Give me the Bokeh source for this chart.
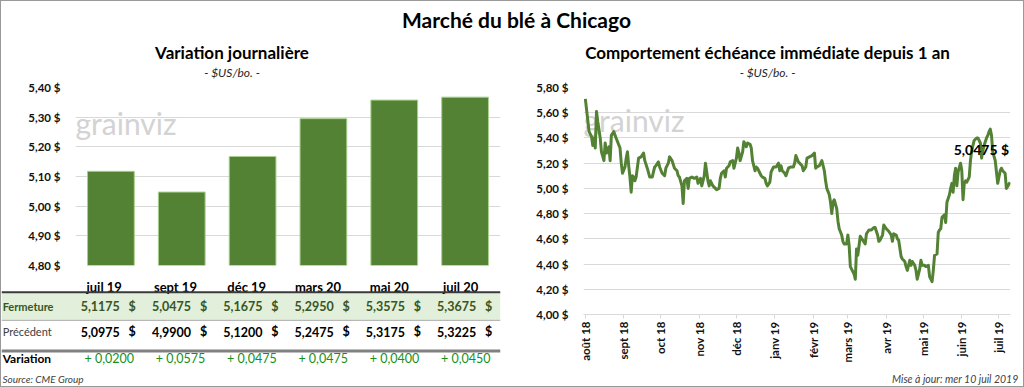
import pandas as pd
from math import pi
from bokeh.plotting import figure
from bokeh.layouts import column, row
from bokeh.models import (Range1d, FactorRange, FixedTicker, ColumnDataSource,
                          Span, BoxAnnotation, Label)
from bokeh.transform import dodge
from bokeh.core.properties import value
from bokeh.embed import file_html
from bokeh.resources import INLINE

FONT = "Lato"
GREEN = "#548235"
GRID = "#D9D9D9"

# ---------------- data ----------------
contracts = ["juil 19", "sept 19", "déc 19", "mars 20", "mai 20", "juil 20"]
fermeture = [5.1175, 5.0475, 5.1675, 5.2950, 5.3575, 5.3675]
precedent = [5.0975, 4.9900, 5.1200, 5.2475, 5.3175, 5.3225]
variation = [0.0200, 0.0575, 0.0475, 0.0475, 0.0400, 0.0450]
row_labels = ["Fermeture", "Précédent", "Variation"]

bar_ticks = [4.80, 4.90, 5.00, 5.10, 5.20, 5.30, 5.40]
bar_tick_labels = ["4,80 $", "4,90 $", "5,00 $", "5,10 $", "5,20 $", "5,30 $", "5,40 $"]

line_ticks = [4.00, 4.20, 4.40, 4.60, 4.80, 5.00, 5.20, 5.40, 5.60, 5.80]
line_tick_labels = ["4,00 $", "4,20 $", "4,40 $", "4,60 $", "4,80 $",
                    "5,00 $", "5,20 $", "5,40 $", "5,60 $", "5,80 $"]

month_starts = ["2018-08-01", "2018-09-01", "2018-10-01", "2018-11-01", "2018-12-01",
                "2019-01-01", "2019-02-01", "2019-03-01", "2019-04-01", "2019-05-01",
                "2019-06-01", "2019-07-01"]
month_labels = ["août 18", "sept 18", "oct 18", "nov 18", "déc 18", "janv 19",
                "févr 19", "mars 19", "avr 19", "mai 19", "juin 19", "juil 19"]

series_start = "2018-08-01"
price_days = [0, 3, 5, 6, 7, 8, 9, 10, 12, 13, 15, 16, 17, 19, 20, 21, 23, 24, 26, 28,
              29, 30, 32, 33, 34, 35, 36, 37, 38, 39, 40, 41, 43, 45, 47, 48, 50, 52, 54, 56,
              57, 59, 60, 62, 64, 65, 67, 68, 70, 72, 74, 75, 76, 78, 79, 80, 82, 83, 84, 86,
              88, 90, 91, 93, 94, 96, 97, 99, 100, 101, 103, 105, 106, 108, 109, 110, 112, 113, 114, 116,
              117, 119, 120, 122, 123, 124, 125, 127, 128, 130, 131, 133, 134, 135, 137, 138, 139, 141, 142, 143,
              145, 146, 147, 149, 150, 152, 154, 156, 157, 158, 159, 161, 162, 164, 166, 168, 169, 170, 172, 173,
              175, 176, 178, 179, 181, 183, 185, 186, 187, 189, 191, 193, 194, 195, 197, 198, 199, 200, 201, 203,
              204, 205, 207, 208, 209, 211, 212, 213, 214, 215, 217, 218, 219, 220, 222, 224, 226, 227, 229, 231,
              233, 234, 236, 237, 238, 240, 241, 243, 244, 245, 247, 248, 249, 251, 252, 253, 255, 256, 258, 259,
              260, 262, 263, 264, 266, 267, 268, 270, 271, 272, 274, 275, 277, 278, 280, 281, 282, 284, 285, 286,
              287, 288, 290, 291, 292, 294, 295, 296, 297, 298, 299, 300, 301, 303, 304, 305, 306, 307, 308, 310,
              311, 312, 314, 316, 317, 319, 320, 321, 322, 324, 325, 326, 327, 328, 329, 331, 332, 333, 335, 336,
              337, 339, 340, 343]
price_values = [5.71, 5.45, 5.41, 5.34, 5.40, 5.32, 5.61, 5.53, 5.40, 5.29, 5.22, 5.36, 5.28, 5.33, 5.22, 5.42, 5.45, 5.42, 5.37, 5.32,
                5.20, 5.12, 5.17, 5.24, 5.29, 5.18, 5.09, 4.97, 5.10, 5.09, 5.06, 5.09, 5.24, 5.25, 5.28, 5.22, 5.16, 5.09, 5.09, 5.17,
                5.18, 5.21, 5.17, 5.12, 5.10, 5.16, 5.20, 5.25, 5.22, 5.16, 5.14, 5.10, 5.09, 5.02, 4.88, 5.06, 5.08, 5.00, 5.08, 5.09,
                5.08, 5.09, 5.04, 5.08, 5.02, 5.10, 5.20, 5.06, 5.02, 5.06, 5.02, 5.00, 4.99, 5.00, 5.08, 5.12, 5.14, 5.09, 5.16, 5.18,
                5.21, 5.22, 5.16, 5.24, 5.32, 5.28, 5.22, 5.29, 5.37, 5.33, 5.36, 5.35, 5.32, 5.22, 5.14, 5.17, 5.16, 5.12, 5.10, 5.09,
                5.08, 5.04, 5.02, 5.05, 5.13, 5.17, 5.17, 5.20, 5.14, 5.18, 5.14, 5.12, 5.10, 5.16, 5.17, 5.17, 5.20, 5.26, 5.21, 5.20,
                5.18, 5.14, 5.17, 5.24, 5.25, 5.26, 5.28, 5.16, 5.17, 5.18, 5.22, 5.14, 5.06, 5.00, 4.95, 4.89, 4.80, 4.89, 4.91, 4.84,
                4.74, 4.68, 4.63, 4.58, 4.56, 4.56, 4.63, 4.55, 4.38, 4.36, 4.32, 4.28, 4.52, 4.47, 4.62, 4.59, 4.56, 4.64, 4.67, 4.67,
                4.69, 4.69, 4.63, 4.58, 4.59, 4.63, 4.71, 4.68, 4.67, 4.66, 4.63, 4.58, 4.64, 4.63, 4.60, 4.59, 4.46, 4.44, 4.42, 4.38,
                4.35, 4.43, 4.39, 4.42, 4.39, 4.35, 4.28, 4.36, 4.43, 4.39, 4.39, 4.38, 4.39, 4.30, 4.26, 4.35, 4.47, 4.48, 4.65, 4.67,
                4.68, 4.77, 4.79, 4.73, 4.89, 4.95, 5.00, 5.04, 4.97, 5.10, 5.16, 5.02, 5.13, 5.20, 5.14, 4.91, 5.04, 5.06, 5.05, 5.09,
                5.22, 5.30, 5.38, 5.40, 5.40, 5.36, 5.24, 5.30, 5.34, 5.40, 5.42, 5.45, 5.47, 5.42, 5.29, 5.22, 5.13, 5.04, 5.14, 5.16,
                5.14, 5.12, 5.00, 5.0475]

main_title = "Marché du blé à Chicago"
left_title = "Variation journalière"
right_title = "Comportement échéance immédiate depuis 1 an"
unit_text = "- $US/bo. -"
source_text = "Source: CME Group"
update_text = "Mise à jour: mer 10 juil 2019"
watermark = "grainviz"


def fr(v, nd):
    return f"{v:.{nd}f}".replace(".", ",")


def style_axis(ax, size="11.5px"):
    ax.axis_line_color = None
    ax.major_tick_line_color = None
    ax.minor_tick_line_color = None
    ax.major_label_text_font = FONT
    ax.major_label_text_font_style = "bold"
    ax.major_label_text_font_size = size
    ax.major_label_text_color = "#111111"


def no_align(p):
    if hasattr(p, "frame_align"):
        p.frame_align = False
    return p


W = 1022
W_L = 509
W_R = W - W_L
H_T, H_BAR, H_TBL, H_FOOT = 78, 193, 96, 18
H_R = H_BAR + H_TBL

# ---------------- header figure ----------------
tf = no_align(figure(width=W, height=H_T, x_range=Range1d(0, W), y_range=Range1d(H_T, 0),
                     toolbar_location=None, output_backend="svg", min_border=0,
                     x_axis_location=None, y_axis_location=None))
tf.grid.visible = False
tf.outline_line_color = None
tf.text(x=[515], y=[18], text=[main_title], text_font=value(FONT), text_font_style="bold",
        text_font_size="21px", text_align="center", text_baseline="middle", text_color="#000000")
tf.text(x=[230.5, 766], y=[50.5, 50.5], text=[left_title, right_title], text_font=value(FONT),
        text_font_style="bold", text_font_size="17px", text_align="center",
        text_baseline="middle", text_color="#000000")
tf.text(x=[230.5, 766], y=[71, 71], text=[unit_text, unit_text], text_font=value(FONT),
        text_font_style="italic", text_font_size="12px", text_align="center",
        text_baseline="middle", text_color="#262626")

# ---------------- bar chart ----------------
bar_src = ColumnDataSource(dict(contract=contracts, close=fermeture))
bf = no_align(figure(width=W_L, height=H_BAR, x_range=FactorRange(*contracts),
                     y_range=Range1d(bar_ticks[0], bar_ticks[-1]),
                     toolbar_location=None, output_backend="svg",
                     min_border_left=74, min_border_right=10, min_border_top=8, min_border_bottom=7,
                     x_axis_location=None))
bf.add_layout(Label(x=0, y=143, x_units="screen", y_units="screen", text=watermark,
                    text_font=FONT, text_font_size="30px", text_color="#D3D3D3",
                    text_baseline="alphabetic", level="underlay"))
bf.vbar(x="contract", top="close", bottom=bar_ticks[0], width=0.66, source=bar_src,
        fill_color=GREEN, line_color="#A9D08E", line_width=1)
bf.yaxis.ticker = FixedTicker(ticks=bar_ticks)
bf.yaxis.major_label_overrides = dict(zip(bar_ticks, bar_tick_labels))
style_axis(bf.yaxis)
bf.yaxis.major_label_standoff = 9
bf.xgrid.visible = False
bf.ygrid.grid_line_color = GRID
bf.outline_line_color = None

# ---------------- table ----------------
tbl_src = ColumnDataSource(dict(
    contract=contracts,
    ferm=[fr(v, 4) for v in fermeture],
    prec=[fr(v, 4) for v in precedent],
    var=["+ " + fr(v, 4) for v in variation],
    dollar=["$"] * len(contracts),
))
tbl = no_align(figure(width=W_L, height=H_TBL, x_range=FactorRange("label", *contracts),
                      y_range=Range1d(H_TBL, 0), toolbar_location=None, output_backend="svg",
                      min_border_left=0, min_border_right=10, min_border_top=0, min_border_bottom=0,
                      x_axis_location=None, y_axis_location=None))
tbl.grid.visible = False
tbl.outline_line_color = None
tbl.add_layout(BoxAnnotation(top=20.7, bottom=47.3, fill_color="#E2EFDA", fill_alpha=1,
                             line_color=None, level="underlay"))
tbl.add_layout(Span(location=19.7, dimension="width", line_color="#3A3A3A", line_width=2))
tbl.add_layout(Span(location=47.8, dimension="width", line_color="#A6A6A6", line_width=1))
tbl.add_layout(Span(location=78.5, dimension="width", line_color="#808080", line_width=3))

R = tbl.x_range
common = dict(source=tbl_src, text_font=value(FONT), text_baseline="middle")
tbl.text(x=dodge("contract", -0.06, range=R), y=14, text="contract", text_align="center",
         text_font_style="bold", text_font_size="13px", text_color="#000000", **common)
tbl.text(x=dodge("contract", 0.16, range=R), y=33.5, text="ferm", text_align="right",
         text_font_style="bold", text_font_size="12.5px", text_color="#375623", **common)
tbl.text(x=dodge("contract", 0.385, range=R), y=33.5, text="dollar", text_align="right",
         text_font_style="bold", text_font_size="12.5px", text_color="#375623", **common)
tbl.text(x=dodge("contract", 0.16, range=R), y=59, text="prec", text_align="right",
         text_font_style="bold", text_font_size="12.5px", text_color="#000000", **common)
tbl.text(x=dodge("contract", 0.385, range=R), y=59, text="dollar", text_align="right",
         text_font_style="bold", text_font_size="12.5px", text_color="#000000", **common)
tbl.text(x=dodge("contract", -0.335, range=R), y=86.3, text="var", text_align="left",
         text_font_style="normal", text_font_size="12.5px", text_color="#16901A", **common)

lab = dict(text_font=value(FONT), text_baseline="middle", text_align="left", x_offset=-34.5)
tbl.text(x=["label"], y=[33.5], text=[row_labels[0]], text_font_style="bold",
         text_font_size="11px", text_color="#375623", **lab)
tbl.text(x=["label"], y=[59], text=[row_labels[1]], text_font_style="normal",
         text_font_size="11px", text_color="#404040", **lab)
tbl.text(x=["label"], y=[86.3], text=[row_labels[2]], text_font_style="bold",
         text_font_size="12px", text_color="#000000", **lab)

# ---------------- line chart ----------------
dates = pd.Timestamp(series_start) + pd.to_timedelta(price_days, unit="D")
line_src = ColumnDataSource(dict(date=dates, price=price_values))
month_ms = [int(pd.Timestamp(d).timestamp() * 1000) for d in month_starts]

rf = no_align(figure(width=W_R, height=H_R, x_axis_type="datetime",
                     x_range=Range1d(dates[0] - pd.Timedelta(hours=36), dates[-1] + pd.Timedelta(hours=8)),
                     y_range=Range1d(line_ticks[0], line_ticks[-1]),
                     toolbar_location=None, output_backend="svg",
                     min_border_left=73, min_border_right=13, min_border_top=8, min_border_bottom=54))
rf.add_layout(Label(x=0, y=195, x_units="screen", y_units="screen", text=watermark,
                    text_font=FONT, text_font_size="30px", text_color="#D3D3D3",
                    text_baseline="alphabetic", level="underlay"))
rf.line(x="date", y="price", source=line_src, line_color=GREEN, line_width=3, line_join="round")
rf.yaxis.ticker = FixedTicker(ticks=line_ticks)
rf.yaxis.major_label_overrides = dict(zip(line_ticks, line_tick_labels))
style_axis(rf.yaxis)
rf.yaxis.major_label_standoff = 9
rf.xaxis.ticker = FixedTicker(ticks=month_ms)
rf.xaxis.major_label_overrides = dict(zip(month_ms, month_labels))
style_axis(rf.xaxis)
rf.xaxis.axis_line_color = GRID
rf.xaxis.major_tick_line_color = GRID
rf.xaxis.major_tick_in = 0
rf.xaxis.major_tick_out = 4
rf.xaxis.major_label_orientation = pi / 2
rf.xaxis.major_label_standoff = 3
rf.xgrid.visible = False
rf.ygrid.grid_line_color = GRID
rf.outline_line_color = None
last_ms = int(dates[-1].timestamp() * 1000)
rf.add_layout(Label(x=last_ms, y=price_values[-1], x_offset=-1, y_offset=33,
                    text=fr(price_values[-1], 4) + " $", text_font=FONT,
                    text_font_style="bold", text_font_size="14px", text_color="#000000",
                    text_align="right", text_baseline="middle"))

# ---------------- footer ----------------
ff = no_align(figure(width=W, height=H_FOOT, x_range=Range1d(0, W), y_range=Range1d(H_FOOT, 0),
                     toolbar_location=None, output_backend="svg", min_border=0,
                     x_axis_location=None, y_axis_location=None))
ff.grid.visible = False
ff.outline_line_color = None
ff.text(x=[1], y=[10], text=[source_text], text_font=value(FONT), text_font_style="italic",
        text_font_size="10px", text_align="left", text_baseline="middle", text_color="#404040")
ff.text(x=[1017], y=[10], text=[update_text], text_font=value(FONT), text_font_style="italic",
        text_font_size="10.5px", text_align="right", text_baseline="middle", text_color="#404040")

layout = column(tf, row(column(bf, tbl), rf), ff, styles={"border": "1px solid #999999"})

open("out.html", "w").write(file_html(layout, INLINE, title="Marché du blé à Chicago"))
